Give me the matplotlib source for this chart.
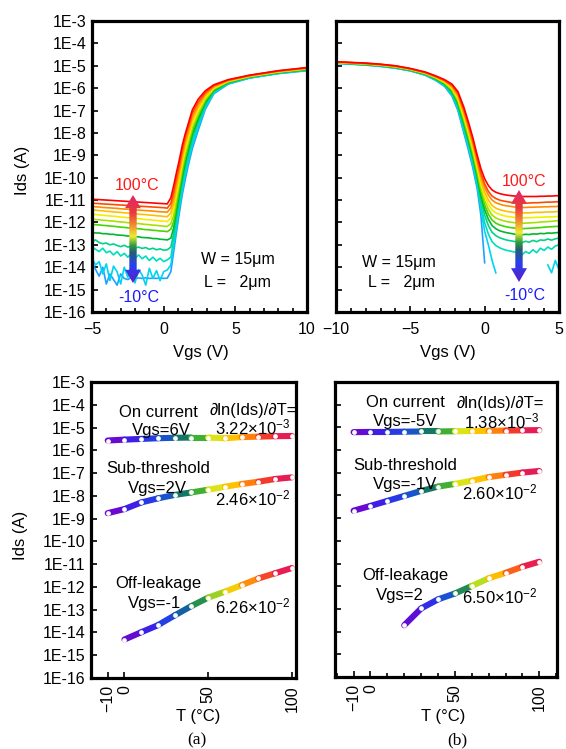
import numpy as np
import matplotlib
matplotlib.use('Agg')
import matplotlib.pyplot as plt
from matplotlib.colors import LinearSegmentedColormap
from matplotlib.patches import Polygon
from matplotlib.ticker import NullLocator, MultipleLocator, FixedLocator

plt.rcParams['font.family'] = ['Liberation Sans', 'DejaVu Sans']
plt.rcParams['mathtext.fontset'] = 'custom'
plt.rcParams['mathtext.rm'] = 'Liberation Sans'
plt.rcParams['mathtext.it'] = 'Liberation Sans:italic'
plt.rcParams['font.size'] = 11

nan = np.nan

# ---- data -------------------------------------------------------------
# transfer curves, rows go 100C, 90C ... -10C, values are log10(Ids)
curve_temps = [100, 90, 80, 70, 60, 50, 40, 30, 20, 10, 0, -10]
curve_colors = ['#ff0000', '#ff4a00', '#ff8c00', '#ffbf00', '#f2ee00', '#a8e000',
                '#48d400', '#00b830', '#00d488', '#00dcc0', '#00d4f0', '#1ea0ff']

vgs_n = [-5, -4.75, -4.5, -4.25, -4, -3.75, -3.5, -3.25, -3, -2.75, -2.5, -2.25,
         -2, -1.75, -1.5, -1.25, -1, -0.75, -0.5, -0.25, 0, 0.25,
         0.5, 0.7, 0.9, 1.1, 1.3, 1.5, 1.7, 2.0, 2.4, 2.9, 3.5, 4.5, 6, 8, 10]

log_ids_n = [
    [-10.96, -10.97, -10.98, -10.99, -11.0, -11.01, -11.02, -11.03, -11.04, -11.05, -11.06, -11.07,
     -11.08, -11.09, -11.1, -11.11, -11.12, -11.13, -11.14, -11.15, -11.16, -11.17,
     -10.9, -10.35, -9.75, -9.18, -8.55, -8.05, -7.62, -6.97, -6.5, -6.12, -5.85, -5.62, -5.42, -5.22, -5.08],
    [-11.14, -11.15, -11.16, -11.17, -11.18, -11.19, -11.2, -11.21, -11.22, -11.23, -11.24, -11.25,
     -11.26, -11.27, -11.28, -11.29, -11.3, -11.31, -11.32, -11.33, -11.34, -11.36,
     -11.15, -10.62, -9.99, -9.41, -8.75, -8.19, -7.77, -7.11, -6.63, -6.2, -5.89, -5.64, -5.43, -5.23, -5.09],
    [-11.29, -11.3, -11.31, -11.33, -11.34, -11.35, -11.36, -11.37, -11.39, -11.4, -11.41, -11.42,
     -11.43, -11.45, -11.46, -11.47, -11.48, -11.49, -11.51, -11.52, -11.53, -11.54,
     -11.35, -10.89, -10.23, -9.63, -8.95, -8.38, -7.95, -7.27, -6.75, -6.27, -5.92, -5.66, -5.44, -5.24, -5.11],
    [-11.44, -11.45, -11.47, -11.48, -11.5, -11.51, -11.53, -11.54, -11.55, -11.57, -11.58, -11.6,
     -11.61, -11.63, -11.64, -11.65, -11.67, -11.68, -11.7, -11.71, -11.73, -11.74,
     -11.58, -11.16, -10.47, -9.84, -9.15, -8.57, -8.12, -7.43, -6.88, -6.35, -5.96, -5.67, -5.46, -5.26, -5.12],
    [-11.63, -11.65, -11.66, -11.68, -11.69, -11.71, -11.72, -11.74, -11.76, -11.77, -11.79, -11.8,
     -11.82, -11.83, -11.85, -11.87, -11.88, -11.9, -11.91, -11.93, -11.94, -11.96,
     -11.8, -11.42, -10.71, -10.06, -9.35, -8.76, -8.29, -7.59, -7.01, -6.42, -6.0, -5.69, -5.47, -5.27, -5.13],
    [-11.85, -11.87, -11.88, -11.9, -11.91, -11.93, -11.94, -11.96, -11.98, -11.99, -12.01, -12.02,
     -12.04, -12.05, -12.07, -12.09, -12.1, -12.12, -12.13, -12.15, -12.16, -12.18,
     -12.05, -11.69, -10.95, -10.27, -9.55, -8.96, -8.46, -7.75, -7.14, -6.5, -6.03, -5.71, -5.48, -5.28, -5.14],
    [-12.08, -12.1, -12.11, -12.13, -12.14, -12.16, -12.17, -12.19, -12.21, -12.22, -12.24, -12.25,
     -12.27, -12.28, -12.3, -12.32, -12.33, -12.35, -12.36, -12.38, -12.39, -12.41,
     -12.3, -11.96, -11.19, -10.48, -9.75, -9.14, -8.64, -7.9, -7.26, -6.57, -6.07, -5.73, -5.49, -5.29, -5.16],
    [-12.45, -12.47, -12.47, -12.5, -12.5, -12.53, -12.53, -12.56, -12.57, -12.58, -12.61, -12.6,
     -12.64, -12.64, -12.67, -12.68, -12.69, -12.72, -12.72, -12.75, -12.76, -12.78,
     -12.7, -12.23, -11.44, -10.7, -9.95, -9.34, -8.81, -8.06, -7.39, -6.65, -6.1, -5.75, -5.5, -5.3, -5.17],
    [-12.85, -12.78, -12.9, -12.95, -12.92, -13.0, -12.96, -13.03, -13.08, -13.02, -13.1, -13.06,
     -13.14, -13.1, -13.16, -13.12, -13.2, -13.15, -13.22, -13.18, -13.24, -13.22,
     -13.1, -12.49, -11.68, -10.91, -10.15, -9.53, -8.98, -8.22, -7.52, -6.72, -6.14, -5.77, -5.51, -5.31, -5.18],
    [-13.1, -13.2, -13.3, -13.15, -13.35, -13.28, -13.45, -13.3, -13.5, -13.38, -13.55, -13.4,
     -13.6, -13.45, -13.62, -13.5, -13.7, -13.55, -13.72, -13.6, -13.75, -13.67,
     -13.55, -12.76, -11.92, -11.12, -10.35, -9.72, -9.15, -8.38, -7.65, -6.8, -6.18, -5.78, -5.53, -5.33, -5.19],
    [-13.6, -13.9, -13.75, -14.3, -13.85, -14.6, -13.95, -14.2, -14.75, -14.0, -14.45, -13.9,
     -14.7, -14.1, -14.35, -14.8, -14.05, -14.5, -14.15, -14.6, -14.2, -14.12,
     -13.9, -13.03, -12.16, -11.34, -10.55, -9.91, -9.33, -8.54, -7.77, -6.87, -6.21, -5.8, -5.54, -5.34, -5.2],
    [-13.75, -14.1, -14.4, -14.0, -14.75, -14.3, -14.55, -14.8, -14.3, -14.5, -14.55, -14.45,
     -14.5, -14.48, -14.5, -14.47, -14.5, -14.49, -14.5, -14.48, -14.5, -14.49,
     -14.2, -13.3, -12.4, -11.55, -10.75, -10.1, -9.5, -8.7, -7.9, -6.95, -6.25, -5.82, -5.55, -5.35, -5.22],
]

vgs_p = [-10, -9, -8, -7, -6, -5, -4, -3.3, -2.7, -2.2, -1.8, -1.4, -1.1, -0.8, -0.5,
         -0.25, 0, 0.25, 0.5,
         0.75, 1, 1.25, 1.5, 1.75, 2, 2.25, 2.5, 2.75, 3, 3.25, 3.5, 3.75, 4, 4.25, 4.5, 4.75, 5]

log_ids_p = [
    [-4.82, -4.85, -4.88, -4.93, -5.0, -5.12, -5.28, -5.45, -5.62, -5.82, -6.15, -6.85, -7.5, -8.2, -9.0,
     -9.6, -10.05, -10.35, -10.55,
     -10.65, -10.71, -10.75, -10.78, -10.8, -10.82, -10.83, -10.84, -10.84, -10.84, -10.84, -10.84, -10.83, -10.83, -10.82, -10.82, -10.81, -10.8],
    [-4.83, -4.86, -4.89, -4.94, -5.01, -5.13, -5.29, -5.47, -5.65, -5.87, -6.23, -6.95, -7.61, -8.32, -9.14,
     -9.79, -10.28, -10.61, -10.82,
     -10.93, -11.0, -11.04, -11.07, -11.1, -11.12, -11.13, -11.14, -11.14, -11.13, -11.12, -11.12, -11.11, -11.1, -11.09, -11.09, -11.08, -11.07],
    [-4.83, -4.86, -4.9, -4.95, -5.02, -5.14, -5.31, -5.49, -5.67, -5.92, -6.3, -7.06, -7.73, -8.45, -9.27,
     -9.94, -10.44, -10.78, -11.0,
     -11.12, -11.18, -11.23, -11.26, -11.28, -11.31, -11.32, -11.33, -11.33, -11.32, -11.32, -11.31, -11.31, -11.3, -11.3, -11.29, -11.29, -11.28],
    [-4.84, -4.87, -4.9, -4.96, -5.03, -5.15, -5.32, -5.5, -5.7, -5.96, -6.38, -7.16, -7.84, -8.57, -9.41,
     -10.12, -10.65, -11.0, -11.24,
     -11.36, -11.43, -11.47, -11.51, -11.53, -11.56, -11.57, -11.58, -11.57, -11.57, -11.56, -11.55, -11.55, -11.54, -11.53, -11.53, -11.52, -11.51],
    [-4.85, -4.88, -4.91, -4.97, -5.04, -5.16, -5.33, -5.52, -5.73, -6.01, -6.46, -7.27, -7.95, -8.69, -9.55,
     -10.28, -10.83, -11.2, -11.44,
     -11.57, -11.64, -11.69, -11.73, -11.75, -11.78, -11.79, -11.8, -11.79, -11.79, -11.78, -11.77, -11.77, -11.76, -11.75, -11.75, -11.74, -11.73],
    [-4.85, -4.89, -4.92, -4.98, -5.05, -5.17, -5.34, -5.54, -5.76, -6.06, -6.54, -7.37, -8.07, -8.81, -9.68,
     -10.45, -11.03, -11.41, -11.67,
     -11.8, -11.87, -11.92, -11.96, -11.99, -12.01, -12.03, -12.04, -12.03, -12.02, -12.01, -12.0, -11.98, -11.97, -11.96, -11.95, -11.93, -11.92],
    [-4.86, -4.89, -4.93, -4.98, -5.06, -5.18, -5.36, -5.56, -5.78, -6.11, -6.61, -7.48, -8.18, -8.94, -9.82,
     -10.62, -11.22, -11.63, -11.89,
     -12.03, -12.11, -12.16, -12.2, -12.23, -12.25, -12.27, -12.28, -12.27, -12.26, -12.25, -12.24, -12.23, -12.21, -12.2, -12.19, -12.18, -12.17],
    [-4.86, -4.9, -4.94, -4.99, -5.07, -5.19, -5.37, -5.58, -5.81, -6.16, -6.69, -7.58, -8.3, -9.06, -9.95,
     -10.8, -11.43, -11.86, -12.14,
     -12.28, -12.37, -12.42, -12.46, -12.49, -12.52, -12.54, -12.55, -12.53, -12.54, -12.51, -12.52, -12.49, -12.5, -12.47, -12.48, -12.46, -12.45],
    [-4.87, -4.91, -4.95, -5.0, -5.08, -5.2, -5.38, -5.6, -5.84, -6.21, -6.77, -7.69, -8.41, -9.18, -10.09,
     -11.0, -11.68, -12.14, -12.44,
     -12.59, -12.68, -12.74, -12.79, -12.82, -12.85, -12.87, -12.9, -12.84, -12.88, -12.8, -12.86, -12.78, -12.8, -12.74, -12.79, -12.73, -12.7],
    [-4.88, -4.92, -4.95, -5.01, -5.09, -5.21, -5.39, -5.61, -5.87, -6.25, -6.85, -7.79, -8.52, -9.3, -10.23,
     -11.25, -12.01, -12.52, -12.86,
     -13.03, -13.13, -13.2, -13.25, -13.28, -13.32, -13.34, -13.45, -13.3, -13.38, -13.22, -13.35, -13.15, -13.25, -13.1, -13.2, -13.05, -13.0],
    [-4.88, -4.92, -4.96, -5.02, -5.1, -5.22, -5.41, -5.63, -5.89, -6.3, -6.92, -7.9, -8.64, -9.43, -10.36,
     -11.4, -12.4, -13.0, -13.7,
     -14.25, nan, nan, nan, nan, nan, nan, nan, nan, nan, nan, nan, nan, nan, -13.9, -14.25, -13.7, -14.1],
    [-4.89, -4.93, -4.97, -5.03, -5.11, -5.23, -5.42, -5.65, -5.92, -6.35, -7.0, -8.0, -8.75, -9.55, -10.5,
     -11.7, -13.8, nan, nan,
     nan, nan, nan, nan, nan, nan, nan, nan, nan, nan, nan, nan, nan, nan, nan, nan, nan, nan],
]

# temperature dependence, log10(Ids)
temp_c = [-10, 0, 10, 20, 30, 40, 50, 60, 70, 80, 90, 100]
a_on = [-5.57, -5.53, -5.5, -5.47, -5.45, -5.44, -5.44, -5.47, -5.42, -5.4, -5.38, -5.37]
a_sub = [-8.76, -8.58, -8.29, -8.11, -7.96, -7.85, -7.73, -7.6, -7.48, -7.38, -7.26, -7.19]
a_off_t = [0, 10, 20, 30, 40, 50, 60, 70, 80, 90, 100]
a_off = [-14.31, -13.99, -13.68, -13.25, -12.84, -12.47, -12.21, -11.92, -11.63, -11.4, -11.17]
b_on = [-5.21, -5.2, -5.2, -5.19, -5.18, -5.18, -5.17, -5.16, -5.15, -5.14, -5.13, -5.12]
b_sub = [-8.67, -8.46, -8.24, -8.02, -7.8, -7.61, -7.49, -7.35, -7.19, -7.09, -6.99, -6.92]
b_off_t = [20, 30, 40, 50, 60, 70, 80, 90, 100]
b_off = [-13.72, -12.98, -12.58, -12.32, -11.99, -11.65, -11.41, -11.14, -10.92]

decades = [10.0 ** k for k in range(-16, -2)]
decade_labels = ['1E-%d' % k for k in range(16, 2, -1)]

# ---- figure -----------------------------------------------------------
W, H = 566, 749
fig = plt.figure(figsize=(W / 100, H / 100), dpi=100)


def box(l, t, r, b):
    return [l / W, 1 - b / H, (r - l) / W, (b - t) / H]


def ftext(x, y, s, **kw):
    fig.text(x / W, 1 - y / H, s, **kw)


def style(ax, labels):
    ax.set_yscale('log')
    ax.set_ylim(1e-16, 1e-3)
    ax.set_yticks(decades)
    ax.yaxis.set_minor_locator(NullLocator())
    ax.set_yticklabels(decade_labels if labels else [])
    for s in ax.spines.values():
        s.set_linewidth(2.3)
    ax.tick_params(which='both', direction='in', width=1.2, top=False, right=False)
    ax.tick_params(which='major', length=4.5)
    ax.tick_params(which='minor', length=3)
    ax.tick_params(axis='y', pad=4, labelsize=11.5)
    ax.tick_params(axis='x', pad=7, labelsize=11.5)


ax_n = fig.add_axes(box(92, 21, 307, 312))
ax_p = fig.add_axes(box(336, 21, 559, 312))
ax_a = fig.add_axes(box(91, 382, 296, 678))
ax_b = fig.add_axes(box(335, 382, 557, 677))

for i in reversed(range(len(curve_temps))):
    ax_n.plot(vgs_n, 10 ** np.array(log_ids_n[i]), color=curve_colors[i], lw=1.2)
    ax_p.plot(vgs_p, 10 ** np.array(log_ids_p[i]), color=curve_colors[i], lw=1.2)

style(ax_n, True)
style(ax_p, False)
ax_n.set_xlim(-5, 10)
ax_n.set_xticks([-5, 0, 5, 10])
ax_n.xaxis.set_minor_locator(MultipleLocator(1))
ax_p.set_xlim(-10, 5)
ax_p.set_xticks([-10, -5, 0, 5])
ax_p.xaxis.set_minor_locator(MultipleLocator(1))

# rainbow along each temperature series (start purple, end crimson)
t_cmap = LinearSegmentedColormap.from_list('temp', [
    (0.0, '#7a00c8'), (0.15, '#3a22e8'), (0.3, '#1a4ee0'), (0.4, '#12706a'),
    (0.5, '#3cae34'), (0.58, '#d6e81a'), (0.68, '#ffc400'), (0.78, '#ff7a10'),
    (0.88, '#f23030'), (1.0, '#e0106a')])


def temp_line(ax, t, logi):
    y = 10 ** np.array(logi)
    span = t[-1] - t[0]
    for k in range(len(t) - 1):
        mid = (t[k] + t[k + 1]) / 2
        ax.plot(t[k:k + 2], y[k:k + 2], color=t_cmap((mid - t[0]) / span), lw=4.4,
                solid_capstyle='round')
    ax.plot(t, y, 'o', ms=3.4, mfc='white', mec='none')


for ax, on, sub, off_t, off in [(ax_a, a_on, a_sub, a_off_t, a_off),
                                (ax_b, b_on, b_sub, b_off_t, b_off)]:
    temp_line(ax, temp_c, on)
    temp_line(ax, temp_c, sub)
    temp_line(ax, off_t, off)

style(ax_a, True)
style(ax_b, False)
ax_a.set_xlim(-20, 102.5)
ax_b.set_xlim(-21, 110.5)
for ax in (ax_a, ax_b):
    ax.set_xticks([-10, 0, 50, 100])
    ax.tick_params(axis='x', labelrotation=90, pad=5)
ax_b.xaxis.set_minor_locator(FixedLocator(list(range(-20, 111, 10))))

# gradient double arrows
arrow_cmap = LinearSegmentedColormap.from_list('arrow', [
    (0.0, '#5a1ec8'), (0.2, '#2a40f0'), (0.35, '#226070'), (0.43, '#30a040'),
    (0.53, '#ecec30'), (0.66, '#f08a30'), (0.8, '#e83a3a'), (1.0, '#e0286c')])
arrow_shape = [(0.5, 1), (1, 0.85), (0.73, 0.85), (0.73, 0.15), (1, 0.15), (0.5, 0),
               (0, 0.15), (0.27, 0.15), (0.27, 0.85), (0, 0.85)]


def grad_arrow(cx, top, bot, w=16):
    a = fig.add_axes(box(cx - w / 2, top, cx + w / 2, bot))
    a.set_axis_off()
    a.patch.set_alpha(0)
    im = a.imshow(np.linspace(0, 1, 256).reshape(-1, 1), cmap=arrow_cmap, origin='lower',
                  extent=[0, 1, 0, 1], aspect='auto')
    a.set_xlim(0, 1)
    a.set_ylim(0, 1)
    poly = Polygon(arrow_shape, closed=True, transform=a.transData, fc='none', ec='none')
    a.add_patch(poly)
    im.set_clip_path(poly)


grad_arrow(133, 195, 283)
grad_arrow(519, 190, 282)

ftext(137, 185, '100°C', color='#ff1a1a', ha='center', va='center', fontsize=11.5)
ftext(139, 298, '-10°C', color='#1a1aff', ha='center', va='center', fontsize=11.5)
ftext(524, 182, '100°C', color='#ff1a1a', ha='center', va='center', fontsize=11.5)
ftext(525, 295, '-10°C', color='#1a1aff', ha='center', va='center', fontsize=11.5)

ftext(201, 260, 'W = 15μm', ha='left', va='center', fontsize=11.5)
ftext(204, 282, 'L =   2μm', ha='left', va='center', fontsize=11.5)
ftext(362, 262, 'W = 15μm', ha='left', va='center', fontsize=11.5)
ftext(368, 283, 'L =   2μm', ha='left', va='center', fontsize=11.5)

# axis titles
ftext(201, 352, 'Vgs (V)', ha='center', va='center', fontsize=12)
ftext(448, 352, 'Vgs (V)', ha='center', va='center', fontsize=12)
ftext(22, 170, 'Ids (A)', ha='center', va='center', rotation=90, fontsize=12)
ftext(20, 535, 'Ids (A)', ha='center', va='center', rotation=90, fontsize=12)
ftext(198, 717, 'T (°C)', ha='center', va='center', fontsize=12)
ftext(443, 717, 'T (°C)', ha='center', va='center', fontsize=12)
ftext(197, 740, '(a)', ha='center', va='center', fontsize=12.5, family='Liberation Serif')
ftext(457, 740, '(b)', ha='center', va='center', fontsize=12.5, family='Liberation Serif')

# annotations on the temperature plots (baseline placed)
notes = [
    (158, 417, 'On current'), (161, 435, 'Vgs=6V'),
    (253, 415, '∂ln(Ids)/∂T='), (253, 434, '3.22×10$^{-3}$'),
    (158, 473, 'Sub-threshold'), (157, 493, 'Vgs=2V'), (253, 505, '2.46×10$^{-2}$'),
    (158, 588, 'Off-leakage'), (155, 608, 'Vgs=-1'), (253, 613, '6.26×10$^{-2}$'),
    (405, 407, 'On current'), (405, 426, 'Vgs=-5V'),
    (500, 408, '∂ln(Ids)/∂T='), (502, 428, '1.38×10$^{-3}$'),
    (405, 470, 'Sub-threshold'), (405, 489, 'Vgs=-1V'), (500, 499, '2.60×10$^{-2}$'),
    (405, 580, 'Off-leakage'), (400, 600, 'Vgs=2'), (500, 603, '6.50×10$^{-2}$'),
]
for x, y, s in notes:
    ftext(x, y, s, ha='center', va='baseline', fontsize=12)

fig.savefig('out.png', dpi=100)
